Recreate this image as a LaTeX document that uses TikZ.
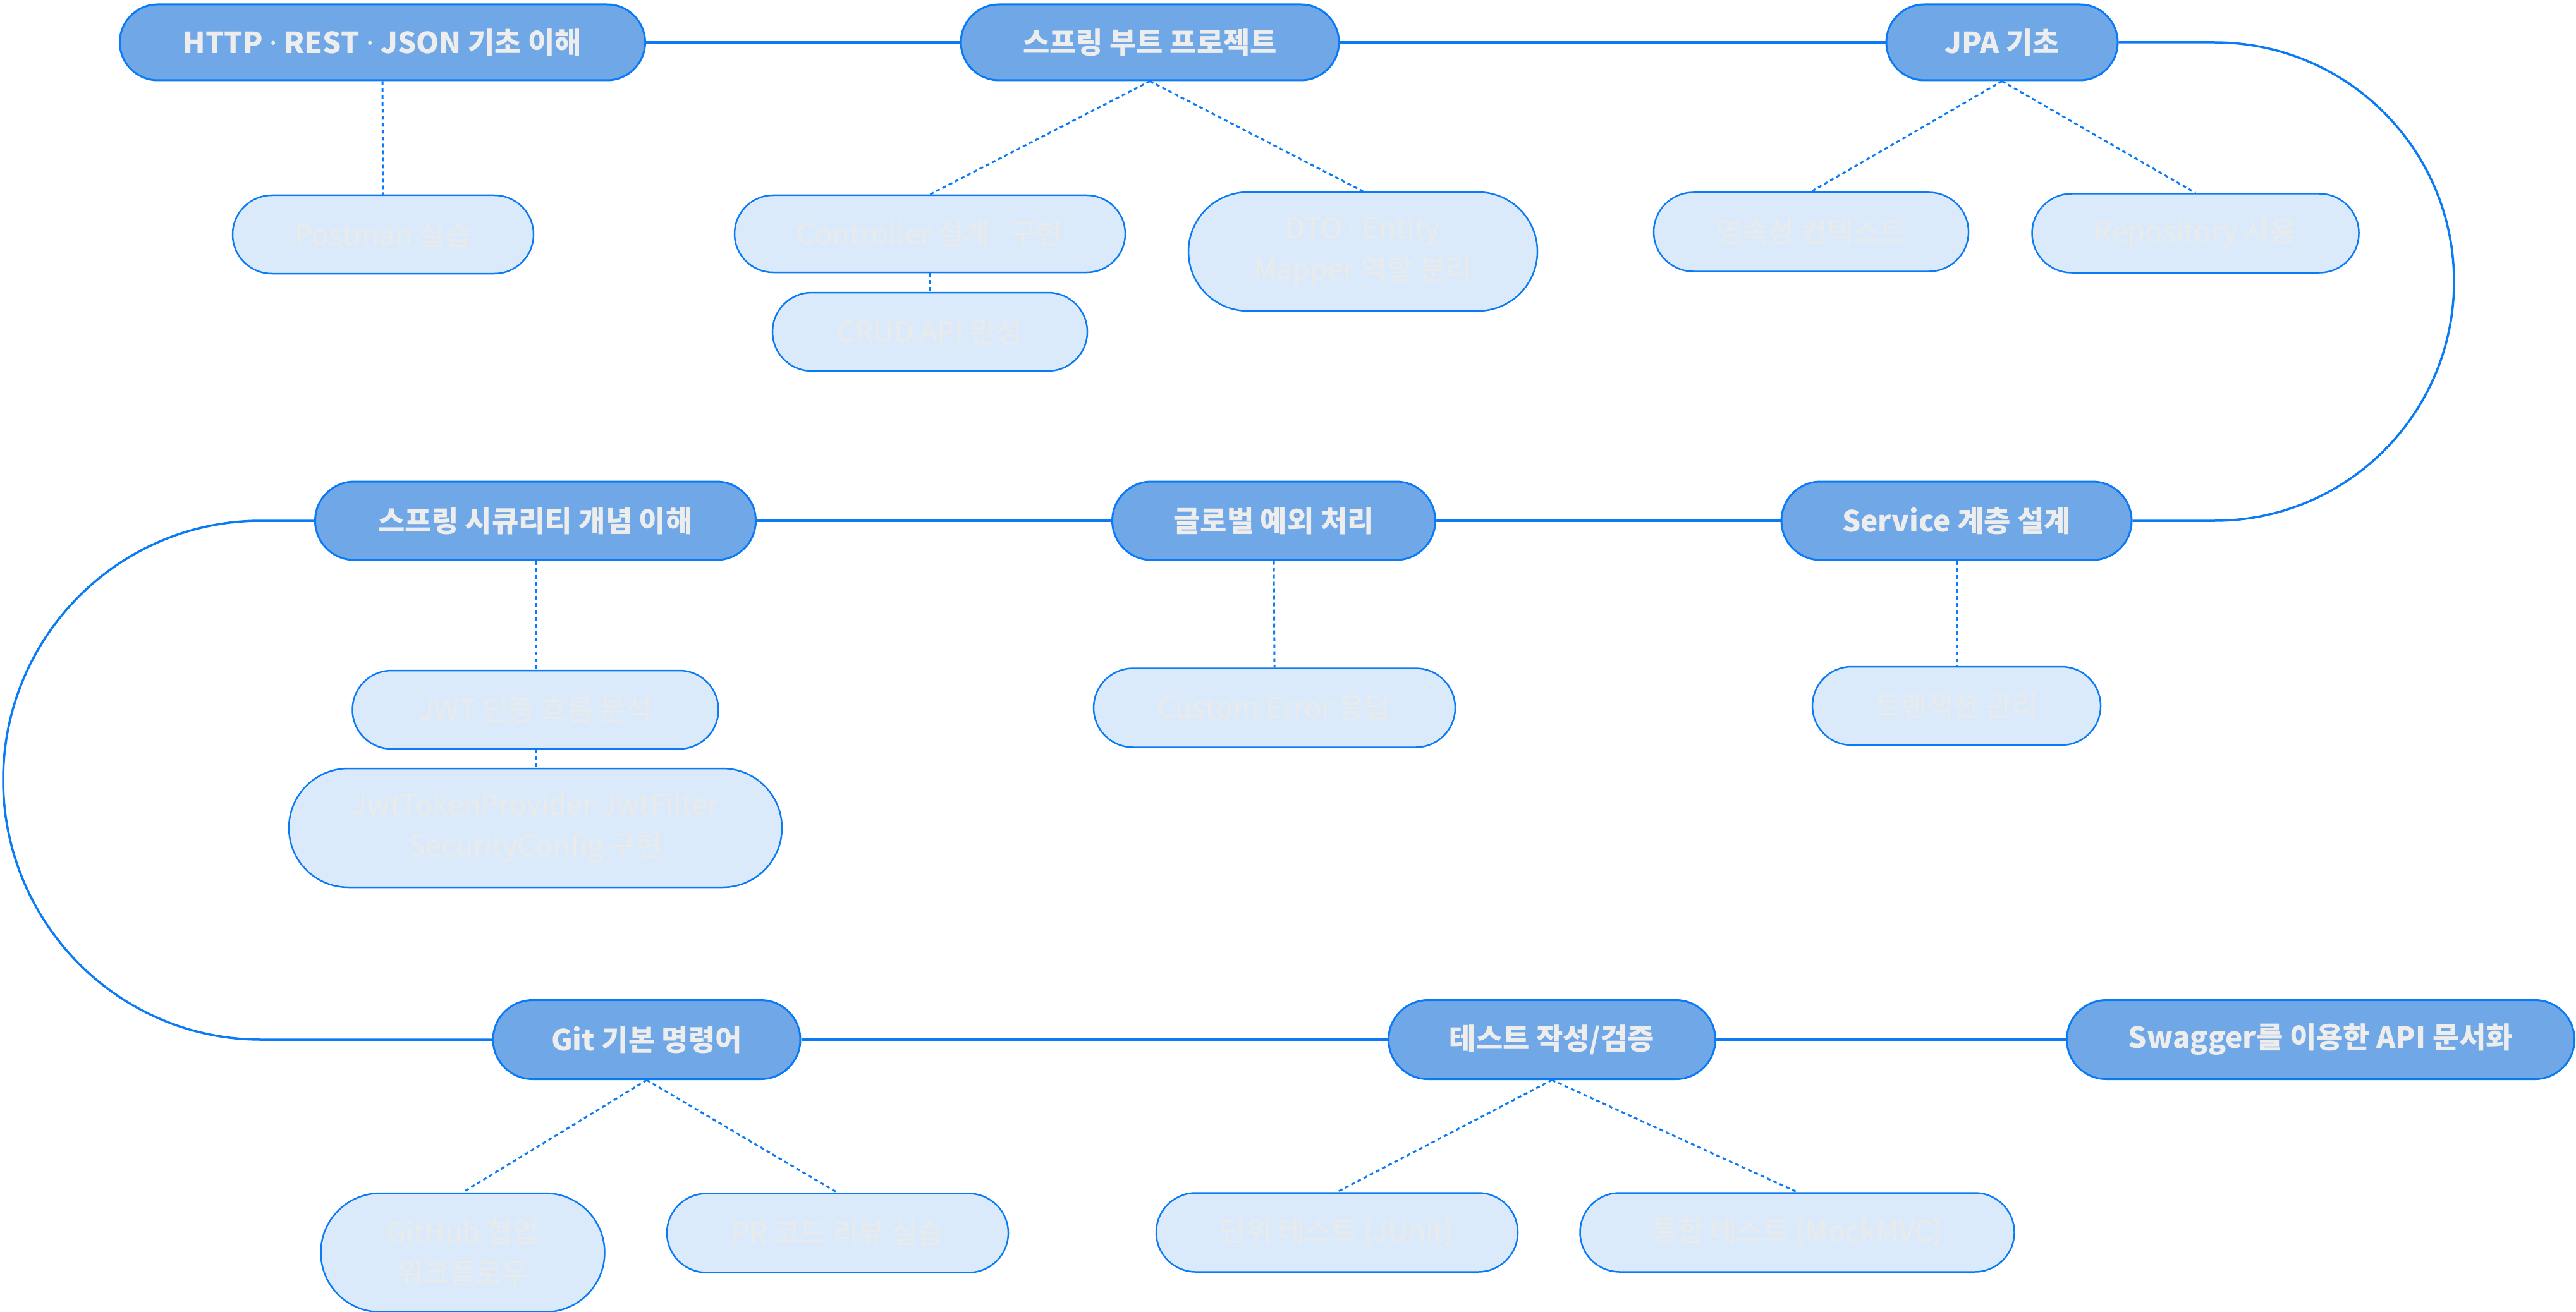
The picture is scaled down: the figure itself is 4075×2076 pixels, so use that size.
\documentclass[tikz,border=0pt]{standalone}
\usepackage{fontspec}
\setmainfont{Noto Sans CJK KR}
\newfontfamily\dotfont{Noto Sans}
\newcommand{\mdot}{{\dotfont ·}}
\usetikzlibrary{shapes.misc,backgrounds}
\definecolor{mainfill}{HTML}{70A7E7}
\definecolor{edgeblue}{HTML}{0A7BF5}
\definecolor{subfill}{HTML}{DBEAFA}
\definecolor{maintext}{HTML}{EDEDED}
\definecolor{subtext}{HTML}{EAEAEA}
\begin{document}
\begin{tikzpicture}[x=1pt,y=-1pt,
  mainnode/.style={rounded rectangle, draw=edgeblue, line width=3pt, fill=mainfill, text=maintext,
    font=\fontsize{46}{54}\selectfont\bfseries, inner sep=0pt},
  subnode/.style={rounded rectangle, draw=edgeblue, line width=2.5pt, fill=subfill, text=subtext,
    font=\fontsize{45}{65}\selectfont, inner sep=0pt, align=center},
  conn/.style={draw=edgeblue, line width=3.5pt},
  subline/.style={draw=edgeblue, line width=3pt, dash pattern=on 6pt off 5pt}]
\useasboundingbox (0,0) rectangle (4075,2076);
% main nodes
\node[mainnode, minimum width=831pt, minimum height=120pt] (http) at (605,67) {HTTP \mdot{} REST \mdot{} JSON 기초 이해};
\node[mainnode, minimum width=598pt, minimum height=120pt] (boot) at (1819,67) {스프링 부트 프로젝트};
\node[mainnode, minimum width=366pt, minimum height=120pt] (jpa) at (3167,67) {JPA 기초};
\node[mainnode, minimum width=697pt, minimum height=124pt] (sec) at (847,824) {스프링 시큐리티 개념 이해};
\node[mainnode, minimum width=511pt, minimum height=124pt] (glob) at (2015,824) {글로벌 예외 처리};
\node[mainnode, minimum width=554pt, minimum height=124pt] (svc) at (3095,824) {Service 계층 설계};
\node[mainnode, minimum width=486pt, minimum height=125pt] (git) at (1023,1645) {Git 기본 명령어};
\node[mainnode, minimum width=517pt, minimum height=125pt] (test) at (2455,1645) {테스트 작성/검증};
\node[mainnode, minimum width=803pt, minimum height=125pt] (swag) at (3671,1645) {Swagger를 이용한 API 문서화};
% sub nodes
\node[subnode, minimum width=476pt, minimum height=124pt] (postman) at (606,371) {Postman 실습};
\node[subnode, minimum width=618pt, minimum height=122pt] (ctrl) at (1471,370) {Controller 설계 \mdot{} 구현};
\node[subnode, minimum width=498pt, minimum height=124pt] (crud) at (1471,525) {CRUD API 완성};
\node[subnode, minimum width=552pt, minimum height=188pt] (dto) at (2156,398) {DTO \mdot{} Entity\\Mapper 역할 분리};
\node[subnode, minimum width=498pt, minimum height=125pt] (pc) at (2865,367) {영속성 컨텍스트};
\node[subnode, minimum width=517pt, minimum height=125pt] (repo) at (3473,369) {Repository 사용};
\node[subnode, minimum width=579pt, minimum height=124pt] (jwt) at (847,1123) {JWT 인증 흐름 분석};
\node[subnode, minimum width=780pt, minimum height=188pt] (jwtimpl) at (847,1310) {JwtTokenProvider\mdot{}JwtFilter\\SecurityConfig 구현};
\node[subnode, minimum width=572pt, minimum height=125pt] (err) at (2016,1120) {Custom Error 응답};
\node[subnode, minimum width=456pt, minimum height=124pt] (tx) at (3095,1117) {트랜잭션 관리};
\node[subnode, minimum width=449pt, minimum height=188pt] (gh) at (732,1982) {GitHub 협업\\워크플로우};
\node[subnode, minimum width=540pt, minimum height=125pt] (pr) at (1325,1951) {PR 코드 리뷰 실습};
\node[subnode, minimum width=572pt, minimum height=125pt] (unit) at (2115,1950) {단위 테스트 (JUnit)};
\node[subnode, minimum width=687pt, minimum height=125pt] (integ) at (2843,1950) {통합 테스트 (MockMVC)};
% connectors
\begin{scope}[on background layer]
\fill[white] (0,0) rectangle (4075,2076);
\draw[conn] (http.east) -- (boot.west);
\draw[conn] (boot.east) -- (jpa.west);
\draw[conn] (jpa.east) -- (3503,67) .. controls (3712,67) and (3882,236) .. (3882,445.5)
  .. controls (3882,655) and (3712,824) .. (3503,824) -- (svc.east);
\draw[conn] (svc.west) -- (glob.east);
\draw[conn] (glob.west) -- (sec.east);
\draw[conn] (sec.west) -- (413,824) .. controls (187,824) and (5,1008) .. (5,1234)
  .. controls (5,1460) and (187,1645) .. (413,1645) -- (git.west);
\draw[conn] (git.east) -- (test.west);
\draw[conn] (test.east) -- (swag.west);
\draw[subline] (http.south) -- (postman.north);
\draw[subline] (boot.south) -- (ctrl.north);
\draw[subline] (boot.south) -- (dto.north);
\draw[subline] (ctrl.south) -- (crud.north);
\draw[subline] (jpa.south) -- (pc.north);
\draw[subline] (jpa.south) -- (repo.north);
\draw[subline] (sec.south) -- (jwt.north);
\draw[subline] (jwt.south) -- (jwtimpl.north);
\draw[subline] (glob.south) -- (err.north);
\draw[subline] (svc.south) -- (tx.north);
\draw[subline] (git.south) -- (gh.north);
\draw[subline] (git.south) -- (pr.north);
\draw[subline] (test.south) -- (unit.north);
\draw[subline] (test.south) -- (integ.north);
\end{scope}
\end{tikzpicture}
\end{document}
